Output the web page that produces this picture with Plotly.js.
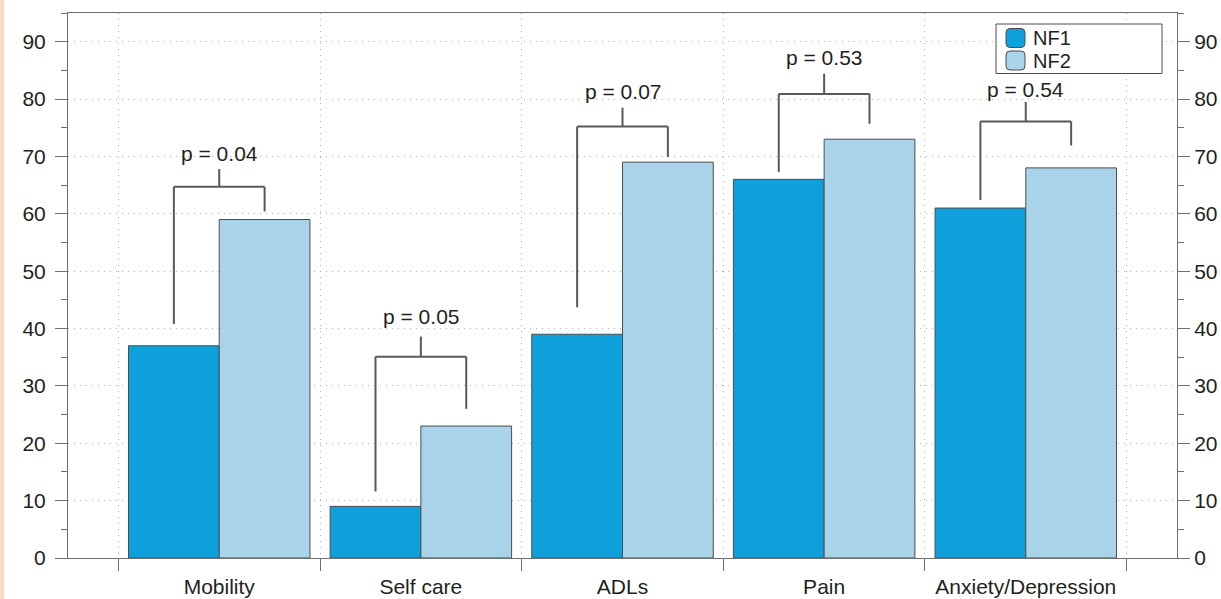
<!DOCTYPE html>
<html>
<head>
<meta charset="utf-8">
<script src="https://cdn.plot.ly/plotly-3.0.1.min.js"></script>
<style>
  html, body { margin: 0; padding: 0; background: #ffffff; }
  #strip { position: absolute; left: 0; top: 0; width: 4px; height: 599px; background: #fcdcc8; z-index: 5; }
  #chart { width: 1221px; height: 599px; }
</style>
</head>
<body>
<div id="strip"></div>
<div id="chart"></div>
<script>
// ---- data ----
var categories = ['Mobility', 'Self care', 'ADLs', 'Pain', 'Anxiety/Depression'];
var seriesNames = ['NF1', 'NF2'];
var nf1 = [37, 9, 39, 66, 61];
var nf2 = [59, 23, 69, 73, 68];
var pLabels = ['p = 0.04', 'p = 0.05', 'p = 0.07', 'p = 0.53', 'p = 0.54'];
var bracketLeftFoot = [40.8, 11.6, 43.7, 67.3, 62.4];
var bracketRightFoot = [60.4, 26.0, 69.9, 75.7, 71.9];
var bracketTop = [64.7, 35.1, 75.2, 80.9, 76.1];
var bracketTickTop = [67.8, 38.6, 78.5, 84.4, 79.5];
var pLabelY = [70.5, 42.1, 81.3, 87.2, 81.6];
var yTickVals = [0, 10, 20, 30, 40, 50, 60, 70, 80, 90];

var FONT = 'Liberation Sans, Arial, Helvetica, sans-serif';
var TXT = '#231f20';
var AX = '#6d6e70';
var BR = '#58595b';
var COLORS = ['#0ea0da', '#a8d3e8'];
var HALF = 0.225; // bar-centre offset inside a group

// plot-area geometry (pixels) used for the hand-drawn legend box
var W = 1221, H = 599, ML = 68, MR = 44, MT = 13, MB = 41;
var PW = W - ML - MR, PH = H - MT - MB;
function px2x(px) { return (px - ML) / PW; }
function py2y(py) { return (H - MB - py) / PH; }
function roundRectPath(x0, y0, x1, y1, r) {
  var a = px2x(x0), b = px2x(x1), t = py2y(y0), u = py2y(y1);
  var rx = r / PW, ry = r / PH;
  return 'M' + (a + rx) + ',' + t +
    ' L' + (b - rx) + ',' + t + ' Q' + b + ',' + t + ' ' + b + ',' + (t - ry) +
    ' L' + b + ',' + (u + ry) + ' Q' + b + ',' + u + ' ' + (b - rx) + ',' + u +
    ' L' + (a + rx) + ',' + u + ' Q' + a + ',' + u + ' ' + a + ',' + (u + ry) +
    ' L' + a + ',' + (t - ry) + ' Q' + a + ',' + t + ' ' + (a + rx) + ',' + t + ' Z';
}

var traces = [
  {
    type: 'bar', name: seriesNames[0], x: categories, y: nf1, showlegend: false,
    marker: { color: COLORS[0], line: { color: '#4d4d4f', width: 1 } },
    hoverinfo: 'name+x+y'
  },
  {
    type: 'bar', name: seriesNames[1], x: categories, y: nf2, showlegend: false,
    marker: { color: COLORS[1], line: { color: '#4d4d4f', width: 1 } },
    hoverinfo: 'name+x+y'
  },
  {
    // invisible helper so that the right-hand axis is drawn
    type: 'scatter', mode: 'markers', x: categories, y: nf2, yaxis: 'y2',
    marker: { opacity: 0, size: 1 }, showlegend: false, hoverinfo: 'skip'
  }
];

var shapes = [];
var annotations = [];
for (var i = 0; i < categories.length; i++) {
  var ln = { color: BR, width: 2 };
  shapes.push({ type: 'line', xref: 'x', yref: 'y', x0: i - HALF, x1: i - HALF, y0: bracketLeftFoot[i], y1: bracketTop[i], line: ln });
  shapes.push({ type: 'line', xref: 'x', yref: 'y', x0: i - HALF, x1: i + HALF, y0: bracketTop[i], y1: bracketTop[i], line: ln });
  shapes.push({ type: 'line', xref: 'x', yref: 'y', x0: i + HALF, x1: i + HALF, y0: bracketTop[i], y1: bracketRightFoot[i], line: ln });
  shapes.push({ type: 'line', xref: 'x', yref: 'y', x0: i, x1: i, y0: bracketTop[i], y1: bracketTickTop[i], line: ln });
  annotations.push({
    xref: 'x', yref: 'y', x: i, y: pLabelY[i], text: pLabels[i], showarrow: false,
    xanchor: 'center', yanchor: 'middle', font: { family: FONT, size: 21, color: TXT }
  });
}

// legend (box, rounded swatches, names)
shapes.push({
  type: 'rect', xref: 'paper', yref: 'paper',
  x0: px2x(996), x1: px2x(1162), y0: py2y(73.5), y1: py2y(24),
  fillcolor: '#ffffff', line: { color: '#4d4d4f', width: 1 }, layer: 'above'
});
var swatchTop = [28.5, 51];
for (var k = 0; k < seriesNames.length; k++) {
  shapes.push({
    type: 'path', xref: 'paper', yref: 'paper',
    path: roundRectPath(1006, swatchTop[k], 1025, swatchTop[k] + 19, 4),
    fillcolor: COLORS[k], line: { color: '#4d4d4f', width: 1 }, layer: 'above'
  });
  annotations.push({
    xref: 'paper', yref: 'paper', x: px2x(1031), y: py2y(swatchTop[k] + 9.5),
    xanchor: 'left', yanchor: 'middle', showarrow: false, text: seriesNames[k],
    font: { family: FONT, size: 20, color: TXT }
  });
}

var yCommon = {
  range: [0, 95], tickvals: yTickVals, ticks: 'outside', ticklen: 12, tickwidth: 1, tickcolor: AX,
  showline: true, linecolor: AX, linewidth: 1, zeroline: false,
  tickfont: { family: FONT, size: 21, color: TXT }, fixedrange: true,
  minor: { dtick: 5, tick0: 0, ticks: 'outside', ticklen: 6, tickwidth: 1, tickcolor: AX, showgrid: false }
};

var layout = {
  width: W, height: H,
  margin: { l: ML, r: MR, t: MT, b: MB, pad: 0 },
  paper_bgcolor: '#ffffff', plot_bgcolor: '#ffffff',
  font: { family: FONT, size: 21, color: TXT },
  barmode: 'group', bargap: 0.1, bargroupgap: 0,
  showlegend: false,
  xaxis: {
    type: 'category', categoryorder: 'array', categoryarray: categories,
    range: [-0.75, 4.75], tickson: 'boundaries', fixedrange: true,
    ticks: 'outside', ticklen: 12, tickwidth: 1, tickcolor: AX,
    showline: true, linecolor: AX, linewidth: 1, mirror: true,
    showgrid: true, gridcolor: '#b0b0b0', gridwidth: 1, griddash: '1px,5px',
    tickfont: { family: FONT, size: 21, color: TXT }, ticklabelstandoff: 10
  },
  yaxis: Object.assign({}, yCommon, {
    side: 'left', showgrid: true, gridcolor: '#b0b0b0', gridwidth: 1, griddash: '1px,5px',
    ticklabelstandoff: 5
  }),
  yaxis2: Object.assign({}, yCommon, {
    overlaying: 'y', side: 'right', anchor: 'x', showgrid: false, ticklabelstandoff: 0
  }),
  shapes: shapes,
  annotations: annotations
};

Plotly.newPlot('chart', traces, layout, { displayModeBar: false });
</script>
</body>
</html>
